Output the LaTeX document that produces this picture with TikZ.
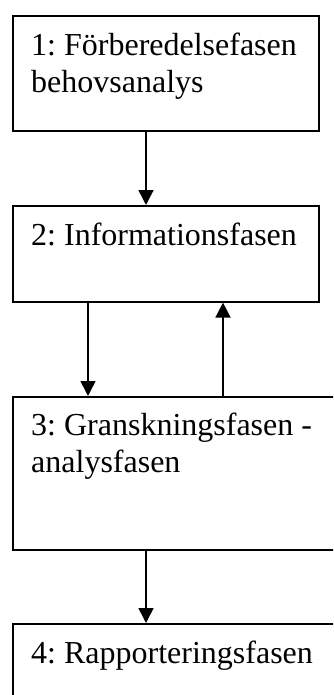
\documentclass[tikz,border=0pt]{standalone}
\usepackage{fontspec}
\setmainfont{Liberation Serif}
\usetikzlibrary{arrows.meta}

\tikzset{
  fase/.style={draw, line width=1.6pt, anchor=north west, inner sep=0pt},
  fasetext/.style={anchor=base west, align=left, inner sep=0pt,
    font=\fontsize{32}{37}\selectfont\frenchspacing},
  pil/.style={line width=1.6pt, -{Triangle[length=15pt,width=15pt]}}
}

\begin{document}
\begin{tikzpicture}[x=1pt,y=-1pt]
		\useasboundingbox[fill=white] (0,0) rectangle (333,695);
		\clip (0,0) rectangle (333,695);
		% boxes
		\node[fase, minimum width=306pt, minimum height=115pt] (b1) at (12,15) {};
		\node[fase, minimum width=306pt, minimum height=96pt] (b2) at (12,205) {};
		\node[fase, minimum width=340pt, minimum height=153pt] (b3) at (12,396) {};
		\node[fase, minimum width=340pt, minimum height=100pt] (b4) at (12,623) {};
		% texts
		\node[fasetext] (t1) at ([shift={(19,78)}]b1.north west) {1: Förberedelsefasen\\behovsanalys};
		\node[fasetext] (t2) at ([shift={(19,40)}]b2.north west) {2: Informationsfasen};
		\node[fasetext] (t3) at ([shift={(19,76)}]b3.north west) {3: Granskningsfasen -\\analysfasen};
		\node[fasetext] (t4) at ([shift={(19,40)}]b4.north west) {4: Rapporteringsfasen};
		% arrows
		\coordinate (mid) at (146,0);
		\coordinate (ned) at (88,0);
		\coordinate (upp) at (223,0);
		\draw[pil] (b1.south -| mid) -- (b2.north -| mid);
		\draw[pil] (b2.south -| ned) -- (b3.north -| ned);
		\draw[pil] (b3.north -| upp) -- (b2.south -| upp);
		\draw[pil] (b3.south -| mid) -- (b4.north -| mid);
\end{tikzpicture}
\end{document}
